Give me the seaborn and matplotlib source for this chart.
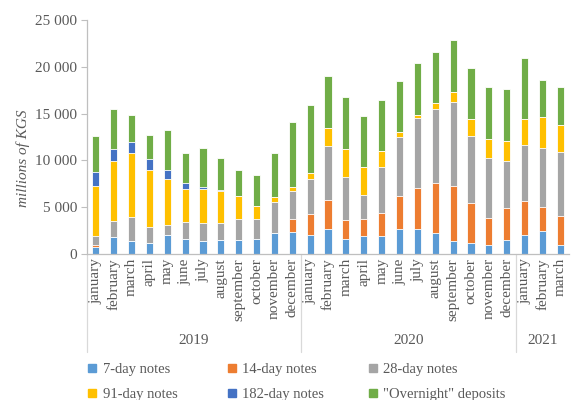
import matplotlib
matplotlib.use("Agg")
import matplotlib.pyplot as plt
import matplotlib.transforms as mtransforms
from matplotlib.lines import Line2D
from matplotlib.ticker import FuncFormatter
import numpy as np
import pandas as pd
import seaborn as sns

# Monthly stock of instruments, millions of KGS
months = ["january", "february", "march", "april", "may", "june", "july",
          "august", "september", "october", "november", "december"]
years = ["2019", "2020", "2021"]
months_per_year = [12, 12, 3]

notes_7 = [0.78, 1.78, 1.42, 1.20, 2.06, 1.64, 1.42, 1.50, 1.53, 1.58, 2.28, 2.40,
           2.06, 2.64, 1.57, 1.89, 1.96, 2.64, 2.64, 2.20, 1.39, 1.14, 0.93, 1.50,
           2.00, 2.46, 0.93]
notes_14 = [0.18, 0.00, 0.00, 0.00, 0.00, 0.00, 0.00, 0.00, 0.00, 0.00, 0.00, 1.30,
            2.18, 3.13, 2.03, 1.88, 2.45, 3.56, 4.44, 5.42, 5.84, 4.26, 2.95, 3.38,
            3.63, 2.56, 3.17]
notes_28 = [1.00, 1.72, 2.53, 1.65, 1.07, 1.81, 1.93, 1.80, 2.17, 2.12, 3.32, 3.07,
            3.74, 5.80, 4.59, 2.50, 4.88, 6.27, 7.48, 7.91, 9.04, 7.24, 6.41, 5.09,
            5.97, 6.30, 6.77]
notes_91 = [5.34, 6.47, 6.85, 6.09, 4.87, 3.49, 3.59, 3.40, 2.50, 1.43, 0.46, 0.36,
            0.67, 1.89, 3.01, 2.99, 1.68, 0.53, 0.32, 0.60, 1.09, 1.75, 2.03, 2.10,
            2.79, 3.28, 2.93]
notes_182 = [1.50, 1.28, 1.20, 1.16, 0.94, 0.61, 0.22, 0.14, 0.00, 0.00, 0.00, 0.00,
             0.00, 0.00, 0.00, 0.00, 0.00, 0.00, 0.00, 0.00, 0.00, 0.00, 0.00, 0.00,
             0.00, 0.00, 0.00]
overnight = [3.80, 4.25, 2.85, 2.60, 4.36, 3.25, 4.20, 3.46, 2.77, 3.27, 4.70, 6.97,
             7.25, 5.52, 5.54, 5.48, 5.53, 5.50, 5.52, 5.47, 5.50, 5.48, 5.55, 5.53,
             6.51, 4.00, 4.00]

series_names = ["7-day notes", "14-day notes", "28-day notes",
                "91-day notes", "182-day notes", "\"Overnight\" deposits"]
series_values = [notes_7, notes_14, notes_28, notes_91, notes_182, overnight]
colors = ["#5B9BD5", "#ED7D31", "#A5A5A5", "#FFC000", "#4472C4", "#70AD47"]

month_labels = [m for n in months_per_year for m in months[:n]]
periods = [f"{y}-{i:02d}" for y, n in zip(years, months_per_year) for i in range(1, n + 1)]

df = pd.DataFrame({name: np.array(v) * 1000 for name, v in zip(series_names, series_values)})
cum = df[series_names].cumsum(axis=1)
cum["period"] = periods

sns.set_theme(style="white")
plt.rcParams["font.family"] = ["Liberation Serif", "DejaVu Serif"]
text_color = "#595959"
axis_color = "#BFBFBF"

fig = plt.figure(figsize=(5.71, 4.0), dpi=100)
ax = fig.add_axes([0.152, 0.365, 0.845, 0.585])

# stacked bars: draw running totals from the top segment down
for name, color in reversed(list(zip(series_names, colors))):
    sns.barplot(data=cum, x="period", y=name, order=periods, color=color,
                width=0.4, saturation=1, linewidth=0.6, edgecolor="#FFFFFF",
                ax=ax)

ax.set_xlim(-0.5, len(periods) - 0.5)
ax.set_ylim(0, 25000)
ax.set_yticks(np.arange(0, 25001, 5000))
ax.yaxis.set_major_formatter(FuncFormatter(lambda v, p: f"{int(v):,}".replace(",", " ")))
ax.set_ylabel("millions of KGS", fontsize=11, style="italic", color=text_color,
              labelpad=4, y=0.41)
ax.set_xlabel("")
ax.set_xticks(range(len(periods)))
ax.set_xticklabels(month_labels, rotation=90, fontsize=11, color=text_color,
                   va="top", ha="center")
ax.tick_params(axis="x", length=0, pad=3)
ax.tick_params(axis="y", length=4, width=0.8, color=axis_color, labelsize=11,
               labelcolor=text_color, left=True, direction="out", pad=3)

for side in ["top", "right"]:
    ax.spines[side].set_visible(False)
for side in ["left", "bottom"]:
    ax.spines[side].set_color(axis_color)
    ax.spines[side].set_linewidth(0.9)

# year groups under the month labels
trans = mtransforms.blended_transform_factory(ax.transData, ax.transAxes)
start = 0
bounds = [-0.5]
for year, n in zip(years, months_per_year):
    center = start + (n - 1) / 2
    ax.text(center, -0.368, year, transform=trans, ha="center", va="center",
            fontsize=11, color=text_color)
    start += n
    bounds.append(start - 0.5)
for b in bounds[:-1]:
    ax.add_line(Line2D([b, b], [0, -0.42], transform=trans, color="#D9D9D9",
                       linewidth=0.9, clip_on=False))

# legend: three columns of two entries each
handles = [Line2D([], [], marker="s", linestyle="none", markersize=6,
                  color=c, label=n) for n, c in zip(series_names, colors)]
col_x = [0.154, 0.399, 0.646]
for col, x0 in enumerate(col_x):
    idx = [col, col + 3]
    fig.legend([handles[i] for i in idx], [series_names[i] for i in idx],
               loc="upper left", bbox_to_anchor=(x0, 0.093), borderpad=0,
               borderaxespad=0, frameon=False, fontsize=10.5, handlelength=0.6,
               handletextpad=0.4, labelspacing=0.8, labelcolor=text_color)

fig.savefig("out.png", dpi=100)
